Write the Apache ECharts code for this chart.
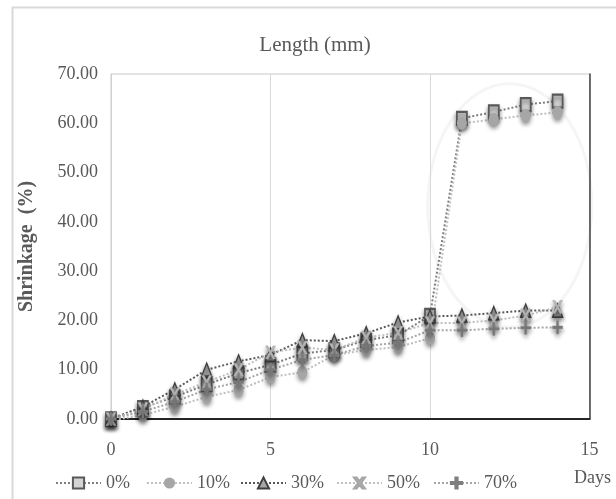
<!DOCTYPE html>
<html>
<head>
<meta charset="utf-8">
<script src="https://cdn.jsdelivr.net/npm/echarts@6/dist/echarts.min.js"></script>
<style>html,body{margin:0;padding:0;background:#fff}#c{width:616px;height:499px}</style>
</head>
<body>
<div id="c"></div>
<script>
var days = [0, 1, 2, 3, 4, 5, 6, 7, 8, 9, 10, 11, 12, 13, 14];
var seriesNames = ['0%', '10%', '30%', '50%', '70%'];
var s0  = [0, 2.3, 4.5, 7.0, 9.3, 11.0, 13.3, 14.0, 16.0, 17.0, 21.0, 61.0, 62.3, 63.8, 64.5];
var s10 = [-0.3, 0.8, 2.5, 4.5, 5.9, 8.5, 9.5, 13.0, 14.0, 14.6, 16.4, 60.0, 60.8, 61.6, 62.2];
var s30 = [0, 2.5, 6.0, 10.0, 11.7, 13.0, 16.0, 15.8, 17.4, 19.6, 20.8, 21.0, 21.5, 22.0, 22.0];
var s50 = [0, 2.0, 5.0, 7.5, 10.0, 13.5, 14.5, 14.0, 16.5, 17.5, 19.5, 19.5, 20.0, 21.0, 22.7];
var s70 = [0, 1.5, 3.5, 6.0, 7.5, 10.0, 12.0, 13.0, 14.8, 15.5, 18.0, 18.0, 18.3, 18.5, 18.6];
var xTicks = [0, 5, 10, 15];
var yTicks = [0, 10, 20, 30, 40, 50, 60, 70];

var FONT = "'Liberation Serif', 'Times New Roman', serif";
var TXT = '#595959';
function pairs(arr) { return days.map(function (d, i) { return [d, arr[i]]; }); }
var shadow = { shadowBlur: 4, shadowColor: 'rgba(0,0,0,0.45)', shadowOffsetY: 3 };
function mk(name, data, symbol, fill, border, bw, lineColor) {
  return {
    name: name, type: 'line', data: pairs(data),
    symbol: symbol, symbolSize: [10, 13], showSymbol: true,
    lineStyle: { type: 'dotted', width: 2, color: lineColor },
    itemStyle: Object.assign({ color: fill, borderColor: border, borderWidth: bw }, shadow),
    emphasis: { disabled: true }, animation: false
  };
}
var XPATH = 'path://M0,0 L2.5,0 L5,3.5 L7.5,0 L10,0 L6.3,5 L10,10 L7.5,10 L5,6.5 L2.5,10 L0,10 L3.7,5 Z';
var PLUS = 'path://M4,0 H6 V4 H10 V6 H6 V10 H4 V6 H0 V4 H4 Z';

var legendLefts = [50, 141, 235, 331, 428];
var legends = seriesNames.map(function (n, i) {
  return {
    left: legendLefts[i], top: 469, itemWidth: 45, itemHeight: 14, itemGap: 0,
    data: [n], selectedMode: false,
    textStyle: { fontFamily: FONT, fontSize: 18, color: TXT }
  };
});

var chart = echarts.init(document.getElementById('c'), null, { renderer: 'canvas' });
var option = {
  backgroundColor: '#fff',
  animation: false,
  title: {
    text: 'Length (mm)', left: 310, top: 30, textAlign: 'center',
    textStyle: { fontFamily: FONT, fontSize: 21, fontWeight: 'normal', color: TXT }
  },
  grid: { left: 111, right: 26.5, top: 74, bottom: 80, show: true, borderColor: '#c8c8c8', borderWidth: 1 },
  legend: legends,
  xAxis: {
    type: 'value', min: 0, max: 15, interval: 5,
    axisLine: { show: true, onZero: false, lineStyle: { color: '#262626', width: 2 } },
    axisTick: { show: false },
    splitLine: { show: true, lineStyle: { color: '#d9d9d9', width: 1 } },
    axisLabel: { margin: 22, fontFamily: FONT, fontSize: 18, color: TXT,
      formatter: function (v) { return xTicks.indexOf(v) >= 0 ? String(v) : ''; } }
  },
  yAxis: [{
    type: 'value', min: 0, max: 70, interval: 10,
    name: 'Shrinkage  (%)', nameLocation: 'middle', nameGap: 74,
    nameTextStyle: { fontFamily: FONT, fontSize: 20, fontWeight: 'bold', color: TXT },
    axisLine: { show: true, lineStyle: { color: '#d0d0d0', width: 1 } },
    axisTick: { show: false },
    splitLine: { show: false },
    axisLabel: { margin: 13, fontFamily: FONT, fontSize: 18, color: TXT,
      formatter: function (v) { return yTicks.indexOf(v) >= 0 ? v.toFixed(2) : ''; } }
  }, {
    type: 'value', min: 0, max: 70, interval: 10, position: 'right',
    axisLine: { show: true, lineStyle: { color: '#404040', width: 1.5 } },
    axisTick: { show: false }, axisLabel: { show: false }, splitLine: { show: false }
  }],
  series: [
    mk('0%', s0, 'rect', '#d4d4d4', '#595959', 2, '#7f7f7f'),
    mk('10%', s10, 'circle', '#a6a6a6', '#a6a6a6', 0, '#bfbfbf'),
    mk('30%', s30, 'triangle', '#a6a6a6', '#404040', 1.5, '#595959'),
    mk('50%', s50, XPATH, '#bfbfbf', '#a6a6a6', 0.5, '#bfbfbf'),
    mk('70%', s70, PLUS, '#7f7f7f', '#7f7f7f', 0.5, '#a6a6a6')
  ]
};
chart.setOption(option);
// faint annotation ellipse around the jump region, positioned via axis scales
var c = chart.convertToPixel({ xAxisIndex: 0, yAxisIndex: 0 }, [12.5, 43.3]);
var e = chart.convertToPixel({ xAxisIndex: 0, yAxisIndex: 0 }, [15.07, 18.6]);
chart.setOption({ graphic: [
  { type: 'rect', z: -10, silent: true, shape: { x: 12.5, y: 7.5, width: 700, height: 700 },
    style: { fill: 'none', stroke: '#d9d9d9', lineWidth: 2 } },
  { type: 'text', left: 574, top: 469, silent: true,
    style: { text: 'Days', font: '18px ' + FONT, fill: TXT } },
  { type: 'ellipse', z: -5, silent: true,
    shape: { cx: c[0], cy: c[1], rx: e[0] - c[0], ry: e[1] - c[1] },
    style: { fill: 'none', stroke: '#f5f5f5', lineWidth: 3 } }
] });
</script>
</body>
</html>
